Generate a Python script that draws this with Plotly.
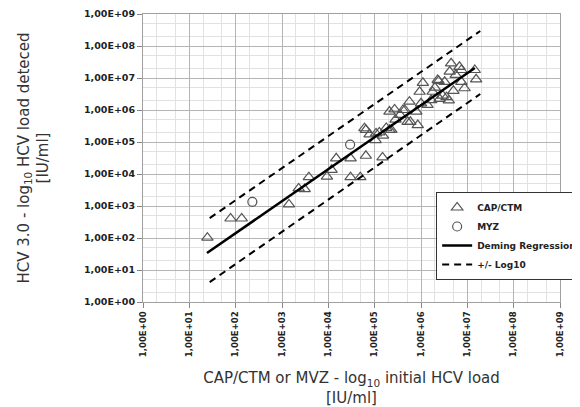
import plotly.graph_objects as go

# Tick labels
tick_vals = [1e0, 1e1, 1e2, 1e3, 1e4, 1e5, 1e6, 1e7, 1e8, 1e9]
tick_text = ["1,00E+00", "1,00E+01", "1,00E+02", "1,00E+03", "1,00E+04",
             "1,00E+05", "1,00E+06", "1,00E+07", "1,00E+08", "1,00E+09"]

# CAP/CTM data (log10 initial load, log10 detected load)
cap_logx = [1.39, 1.89, 2.13, 3.15, 3.36, 3.49, 3.58, 3.97, 4.07, 4.17,
            4.48, 4.48, 4.69, 4.81, 5.17, 4.81, 4.89, 5.02, 5.10, 5.18,
            5.25, 5.32, 5.36, 5.32, 5.43, 5.65, 5.71, 4.78, 5.03, 5.61,
            5.75, 5.77, 5.90, 5.93, 5.97, 6.00, 6.04, 6.14, 6.22, 6.25,
            6.36, 6.38, 6.40, 6.47, 6.51, 6.55, 6.60, 6.62, 6.65, 6.83,
            6.87, 6.87, 6.94, 7.16, 7.19, 5.45, 5.55, 6.30, 6.70, 6.75]
cap_logy = [2.01, 2.61, 2.61, 3.05, 3.55, 3.53, 3.90, 3.92, 4.13, 4.49,
            4.49, 3.90, 3.90, 4.57, 4.52, 5.38, 5.24, 5.06, 5.30, 5.20,
            5.44, 5.38, 5.38, 5.95, 6.02, 6.00, 5.63, 5.43, 5.27, 6.00,
            6.26, 5.63, 5.95, 5.53, 6.57, 6.21, 6.85, 6.16, 6.31, 6.57,
            6.94, 6.91, 6.35, 6.45, 6.88, 6.40, 6.30, 7.20, 7.46, 7.35,
            7.25, 6.88, 6.68, 7.25, 6.96, 5.70, 5.85, 6.70, 6.60, 7.10]

# MVZ data
myz_logx = [2.36, 4.47]
myz_logy = [3.13, 4.92]

# Deming regression and +/- log10 band (endpoints)
fit_x = [24, 1.45e7]
fit_y = [34, 2.05e7]
band_x = [27.5, 1.9e7]
band_up_y = [417, 2.95e8]
band_lo_y = [4.2, 3.16e6]

cap_x = [10 ** v for v in cap_logx]
cap_y = [10 ** v for v in cap_logy]
myz_x = [10 ** v for v in myz_logx]
myz_y = [10 ** v for v in myz_logy]

fig = go.Figure()
fig.add_trace(go.Scatter(
    x=cap_x, y=cap_y, mode="markers", name="CAP/CTM",
    marker=dict(symbol="triangle-up-open", size=10, color="#555555",
                line=dict(width=1.2, color="#555555"))))
fig.add_trace(go.Scatter(
    x=myz_x, y=myz_y, mode="markers", name="MYZ",
    marker=dict(symbol="circle-open", size=9, color="#555555",
                line=dict(width=1.2, color="#555555"))))
fig.add_trace(go.Scatter(
    x=fit_x, y=fit_y, mode="lines", name="Deming Regression",
    line=dict(color="black", width=2.5)))
fig.add_trace(go.Scatter(
    x=band_x, y=band_up_y, mode="lines", name="+/- Log10",
    line=dict(color="black", width=2, dash="7px,5px")))
fig.add_trace(go.Scatter(
    x=band_x, y=band_lo_y, mode="lines", name="+/- Log10", showlegend=False,
    line=dict(color="black", width=2, dash="7px,5px")))

common = dict(
    type="log", tickvals=tick_vals, ticktext=tick_text,
    showgrid=True, gridcolor="#b5b5b5", gridwidth=1,
    minor=dict(showgrid=True, gridcolor="#e2e2e2", gridwidth=1, ticks=""),
    showline=True, linecolor="#a0a0a0", linewidth=1, mirror=True,
    ticks="outside", ticklen=5, tickcolor="#888888", zeroline=False,
)

titlefont = dict(family="DejaVu Sans", size=15, color="#333333")
fig.update_xaxes(range=[0, 9], tickangle=-90,
                 tickfont=dict(family="DejaVu Sans", size=8.5, color="#222222", weight="bold"),
                 title=dict(text="CAP/CTM or MVZ - log<sub>10</sub> initial HCV load<br>[IU/ml]",
                            font=titlefont, standoff=18),
                 **common)
fig.update_yaxes(range=[0, 9],
                 tickfont=dict(family="DejaVu Sans", size=9.5, color="#222222", weight="bold"),
                 title=dict(text="HCV 3.0 - log<sub>10</sub> HCV load deteced<br>[IU/ml]",
                            font=titlefont, standoff=31),
                 **common)

fig.update_layout(
    width=572, height=399,
    margin=dict(l=135, r=20, t=6, b=105, autoexpand=False),
    paper_bgcolor="white", plot_bgcolor="white",
    legend=dict(x=0.703, y=0.382, xanchor="left", yanchor="top",
                bgcolor="white", bordercolor="#333333", borderwidth=1,
                font=dict(family="DejaVu Sans", size=9, color="#222222", weight="bold"),
                itemwidth=30, tracegroupgap=0),
)

fig.write_html("out.html")
